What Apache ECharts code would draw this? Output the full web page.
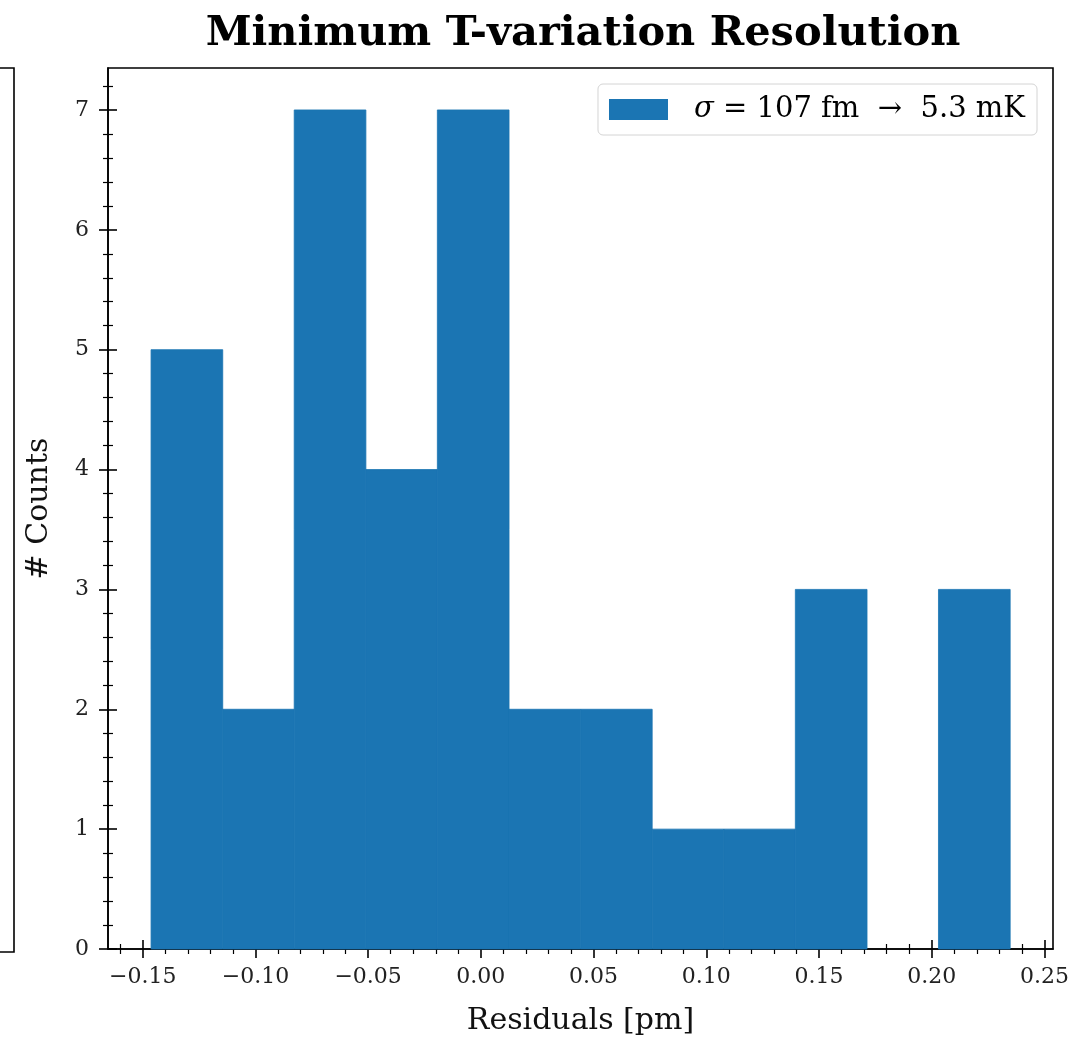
<!DOCTYPE html>
<html>
<head>
<meta charset="utf-8">
<script src="https://cdn.jsdelivr.net/npm/echarts@6/dist/echarts.min.js"></script>
<style>
  html, body { margin: 0; padding: 0; background: #fff; }
  #chart { width: 1081px; height: 1041px; }
</style>
</head>
<body>
<div id="chart"></div>
<script>
// histogram bin edges (pm) and counts
var binEdges = [-0.1463, -0.1145, -0.0828, -0.0510, -0.0193, 0.0125, 0.0443,
                0.0760, 0.1078, 0.1395, 0.1713, 0.2030, 0.2348];
var counts = [5, 2, 7, 4, 7, 2, 2, 1, 1, 3, 0, 3];

var xTicks = [-0.15, -0.10, -0.05, 0.00, 0.05, 0.10, 0.15, 0.20, 0.25];
var yTicks = [0, 1, 2, 3, 4, 5, 6, 7];
var seriesName = 'σ = 107 fm → 5.3 mK';

var font = 'DejaVu Serif';
var barColor = '#1b75b3';

var data = [];
for (var i = 0; i < counts.length; i++) {
    data.push([binEdges[i], binEdges[i + 1], counts[i]]);
}

function renderItem(params, api) {
    if (!api.value(2)) {
        return null;
    }
    var p0 = api.coord([api.value(0), api.value(2)]);
    var p1 = api.coord([api.value(1), 0]);
    return {
        type: 'rect',
        shape: { x: p0[0], y: p0[1], width: p1[0] - p0[0], height: p1[1] - p0[1] },
        // thin stroke in the fill colour hides the seams between bins
        style: { fill: barColor, stroke: barColor, lineWidth: 0.8 }
    };
}

function fmtX(v) {
    return (v < 0 ? '\u2212' : '') + Math.abs(v).toFixed(2);
}

var xBase = {
    type: 'value',
    min: -0.1654,
    max: 0.2538,
    splitNumber: 8,
    position: 'bottom',
    offset: 0,
    splitLine: { show: false }
};
var yBase = {
    type: 'value',
    min: 0,
    max: 7.35,
    interval: 1,
    position: 'left',
    offset: 0,
    splitLine: { show: false }
};

var option = {
    animation: false,
    backgroundColor: '#fff',
    title: {
        text: 'Minimum T-variation Resolution',
        left: 578,
        top: 8,
        textAlign: 'center',
        textStyle: { fontFamily: font, fontWeight: 'bold', fontSize: 41.5, color: '#000' }
    },
    grid: {
        left: 108, right: 28, top: 68, bottom: 89,
        show: true, borderColor: '#000', borderWidth: 1.6, backgroundColor: 'transparent'
    },
    legend: {
        right: 44,
        top: 84,
        icon: 'rect',
        itemWidth: 59,
        itemHeight: 21,
        padding: [11, 12, 11, 11],
        borderColor: '#d4d4d4',
        borderWidth: 1,
        borderRadius: 5,
        backgroundColor: 'rgba(255,255,255,0.8)',
        data: [seriesName],
        formatter: function () {
            return '{s|σ}{t| = 107 fm  →  5.3 mK}';
        },
        textStyle: {
            fontFamily: font, fontSize: 29, color: '#000',
            rich: {
                s: { fontFamily: font, fontStyle: 'italic', fontSize: 29, color: '#000', padding: [0, 0, 0, 21] },
                t: { fontFamily: font, fontSize: 29, color: '#000' }
            }
        }
    },
    xAxis: [
        Object.assign({}, xBase, {
            name: 'Residuals [pm]',
            nameLocation: 'middle',
            nameGap: 57,
            nameTextStyle: { fontFamily: font, fontSize: 30, color: '#111' },
            axisLine: { show: true, onZero: false, lineStyle: { color: '#000', width: 1.6 } },
            axisTick: { show: true, customValues: xTicks, length: 9, lineStyle: { color: '#000', width: 1.6 } },
            minorTick: { show: true, splitNumber: 5, length: 5, lineStyle: { color: '#000', width: 1.2 } },
            axisLabel: { customValues: xTicks, margin: 17, fontFamily: font, fontSize: 22, color: '#222', formatter: fmtX }
        }),
        Object.assign({}, xBase, {
            axisLine: { show: false, onZero: false },
            axisTick: { show: true, inside: true, customValues: xTicks, length: 9, lineStyle: { color: '#000', width: 1.6 } },
            minorTick: { show: true, splitNumber: 5, length: 5, lineStyle: { color: '#000', width: 1.2 } },
            axisLabel: { show: false }
        })
    ],
    yAxis: [
        Object.assign({}, yBase, {
            name: '# Counts',
            nameLocation: 'middle',
            nameGap: 54,
            nameTextStyle: { fontFamily: font, fontSize: 30, color: '#111' },
            axisLine: { show: true, onZero: false, lineStyle: { color: '#000', width: 1.6 } },
            axisTick: { show: true, customValues: yTicks, length: 9, lineStyle: { color: '#000', width: 1.6 } },
            minorTick: { show: true, splitNumber: 5, length: 5, lineStyle: { color: '#000', width: 1.2 } },
            axisLabel: { customValues: yTicks, margin: 19, fontFamily: font, fontSize: 22, color: '#222' }
        }),
        Object.assign({}, yBase, {
            axisLine: { show: false, onZero: false },
            axisTick: { show: true, inside: true, customValues: yTicks, length: 9, lineStyle: { color: '#000', width: 1.6 } },
            minorTick: { show: true, splitNumber: 5, length: 5, lineStyle: { color: '#000', width: 1.2 } },
            axisLabel: { show: false }
        })
    ],
    graphic: [{
        // right edge of the neighbouring panel, cut off at the left border
        type: 'polyline',
        shape: { points: [[0, 68], [14, 68], [14, 952], [0, 952]] },
        style: { stroke: '#000', lineWidth: 1.6, fill: null }
    }],
    series: [{
        name: seriesName,
        type: 'custom',
        xAxisIndex: 0,
        yAxisIndex: 0,
        z: 1,
        itemStyle: { color: barColor },
        renderItem: renderItem,
        encode: { x: [0, 1], y: 2 },
        data: data
    }]
};

var chart = echarts.init(document.getElementById('chart'), null, { renderer: 'canvas' });
chart.setOption(option);
</script>
</body>
</html>
